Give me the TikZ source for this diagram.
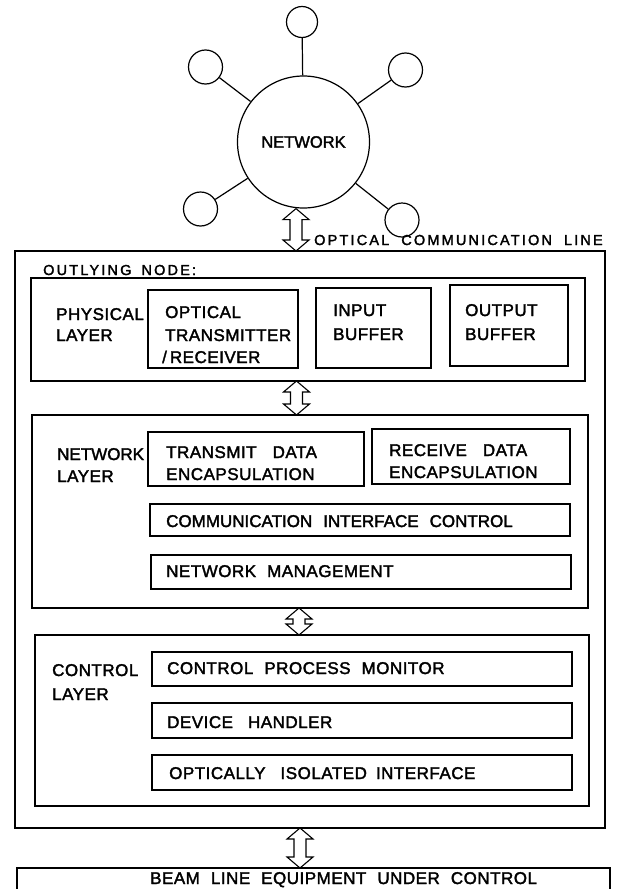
\documentclass[tikz,border=0pt]{standalone}
\usepackage{fontspec}
\setmainfont{Liberation Sans}
\newfontfamily\boxfont[LetterSpace=3,FakeBold=2]{Liberation Sans}
\newfontfamily\tightfont[FakeBold=2]{Liberation Sans}
\newfontfamily\tagfont[LetterSpace=15,FakeBold=2]{Liberation Sans}
\usetikzlibrary{calc}

% word gaps of the hand lettering: normal and wide
\newcommand\sgap{\hspace{11pt}}
\newcommand\wgap{\hspace{16pt}}

% hollow double-headed block arrow between two named points on one vertical
\newcommand\dblarrow[2]{%
  \path[blockarrow] let \p1=(#1), \p2=(#2) in
    (\x1,\y1) -- (\x1+13pt,\y1-11pt) -- (\x1+6pt,\y1-11pt)
    -- (\x1+6pt,\y2+11pt) -- (\x1+13pt,\y2+11pt) -- (\x1,\y2)
    -- (\x1-13pt,\y2+11pt) -- (\x1-6pt,\y2+11pt)
    -- (\x1-6pt,\y1-11pt) -- (\x1-13pt,\y1-11pt) -- cycle;}

\tikzset{
  frame/.style={draw, line width=1.2pt, anchor=north west, inner sep=0pt, outer sep=0pt},
  txt/.style={anchor=base west, inner sep=0pt, font=\boxfont\fontsize{17}{20}\selectfont},
  tighttxt/.style={txt, font=\tightfont\fontsize{17}{20}\selectfont},
  tag/.style={anchor=base west, inner sep=0pt, font=\tagfont\fontsize{14.5}{18}\selectfont},
  hub/.style={draw, circle, line width=1.2pt, inner sep=0pt, minimum size=132pt,
    font=\tightfont\fontsize{16.5}{20}\selectfont},
  site/.style={draw, circle, line width=1.2pt, inner sep=0pt, minimum size=34pt},
  topsite/.style={site, minimum size=31pt},
  spoke/.style={line width=1.2pt},
  blockarrow/.style={draw, fill=white, line width=1.1pt, line join=miter},
}

\begin{document}
\begin{tikzpicture}[x=1pt,y=-1pt]
\clip (0,0) rectangle (616,889);

% ---- network with its stations ----
\node[hub] (hub) at (303.5,142) {NETWORK};
\node[topsite] (s1) at (302,22) {};
\node[site] (s2) at (205.5,67) {};
\node[site] (s3) at (405.5,70) {};
\node[site] (s4) at (200.5,209) {};
\node[site] (s5) at (402,220) {};
\foreach \s in {s1,s2,s3,s4,s5} \draw[spoke] (hub) -- (\s);

% ---- outlying node frame ----
\node[frame, minimum width=590pt, minimum height=577pt] (outer) at (15,251) {};
\node[tag] (otag) at (43,275) {OUTLYING\hspace{10pt}NODE:};
\node[tag] (line) at (314,245) {OPTICAL\hspace{12pt}COMMUNICATION\hspace{12pt}LINE};

% ---- physical layer ----
\node[frame, minimum width=554pt, minimum height=103pt] (phys) at (31,278) {};
\node[txt] (physa) at (56,320) {PHYSICAL};
\node[txt] (physb) at (56,341) {LAYER};
\node[frame, minimum width=150pt, minimum height=78pt] (optic) at (148,290) {};
\node[txt] (optica) at (165,318) {OPTICAL};
\node[txt] (opticb) at (165,341) {TRANSMITTER};
\node[txt] (opticc) at (162,363) {/\hspace{3pt}RECEIVER};
\node[frame, minimum width=115pt, minimum height=80pt] (inbuf) at (316,288) {};
\node[txt] (inbufa) at (333,316) {INPUT};
\node[txt] (inbufb) at (333,340) {BUFFER};
\node[frame, minimum width=118pt, minimum height=81pt] (outbuf) at (450,285) {};
\node[txt] (outbufa) at (465,316) {OUTPUT};
\node[txt] (outbufb) at (465,340) {BUFFER};

% ---- network layer ----
\node[frame, minimum width=556pt, minimum height=193pt] (netl) at (32,415) {};
\node[tighttxt] (netla) at (57,460) {NETWORK};
\node[txt] (netlb) at (57,482) {LAYER};
\node[frame, minimum width=216pt, minimum height=54pt] (tde) at (148,432) {};
\node[txt] (tdea) at (166,458) {TRANSMIT\wgap DATA};
\node[txt] (tdeb) at (166,480) {ENCAPSULATION};
\node[frame, minimum width=198pt, minimum height=55pt] (rde) at (372,429) {};
\node[txt] (rdea) at (389,456) {RECEIVE\wgap DATA};
\node[txt] (rdeb) at (389,478) {ENCAPSULATION};
\node[frame, minimum width=420pt, minimum height=32pt] (cic) at (150,504) {};
\node[tighttxt] (cict) at (166,527) {COMMUNICATION\sgap INTERFACE\sgap CONTROL};
\node[frame, minimum width=420pt, minimum height=34pt] (nman) at (151,555) {};
\node[txt] (nmant) at (166,577) {NETWORK\sgap MANAGEMENT};

% ---- control layer ----
\node[frame, minimum width=554pt, minimum height=171pt] (ctrl) at (35,635) {};
\node[txt] (ctrla) at (52,676) {CONTROL};
\node[txt] (ctrlb) at (52,700) {LAYER};
\node[frame, minimum width=420pt, minimum height=34pt] (cpm) at (152,652) {};
\node[txt] (cpmt) at (167,674) {CONTROL\sgap PROCESS\sgap MONITOR};
\node[frame, minimum width=420pt, minimum height=35pt] (dh) at (152,703) {};
\node[txt] (dht) at (167,728) {DEVICE\hspace{15pt}HANDLER};
\node[frame, minimum width=420pt, minimum height=35pt] (oii) at (152,755) {};
\node[txt] (oiit) at (169,779) {OPTICALLY\hspace{15pt}ISOLATED\hspace{9pt}INTERFACE};

% ---- equipment ----
\node[frame, minimum width=593pt, minimum height=40pt] (beam) at (17,868) {};
\node[txt] (beamt) at (150,884) {BEAM\sgap LINE\sgap EQUIPMENT\sgap UNDER\sgap CONTROL};

% ---- block arrows between levels ----
\coordinate (ax1) at (296,0);
\coordinate (ax2) at (296.5,0);
\coordinate (ax3) at (299,0);
\coordinate (ax4) at (300,0);
\dblarrow{ax1 |- hub.south}{ax1 |- outer.north}
\dblarrow{ax2 |- phys.south}{ax2 |- netl.north}
\dblarrow{ax3 |- netl.south}{ax3 |- ctrl.north}
\dblarrow{ax4 |- outer.south}{ax4 |- beam.north}
\end{tikzpicture}
\end{document}
